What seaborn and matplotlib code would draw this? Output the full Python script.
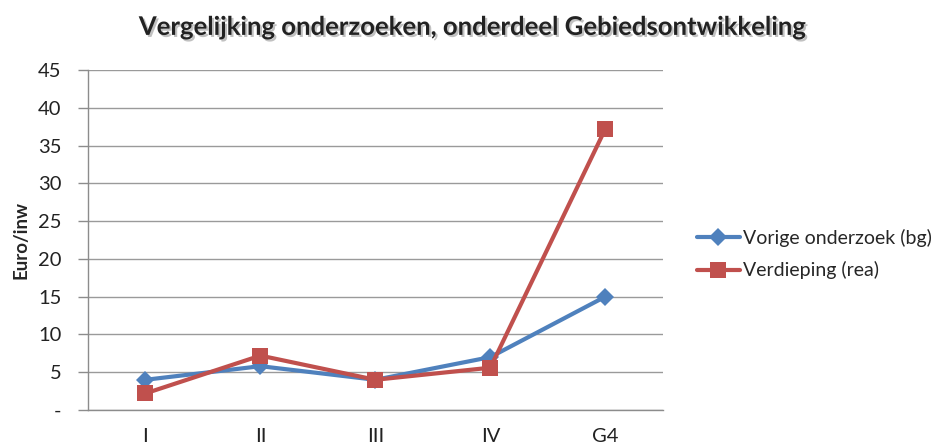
import matplotlib
matplotlib.use("Agg")
import matplotlib.pyplot as plt
import matplotlib.patheffects as pe
import seaborn as sns
import pandas as pd

categories = ["I", "II", "III", "IV", "G4"]
vorige = [4.0, 5.8, 4.0, 7.0, 15.0]
verdieping = [2.2, 7.2, 4.0, 5.6, 37.2]
series_names = ["Vorige onderzoek (bg)", "Verdieping (rea)"]
yticks = [0, 5, 10, 15, 20, 25, 30, 35, 40, 45]
ytick_labels = ["-", "5", "10", "15", "20", "25", "30", "35", "40", "45"]

sns.set_theme(style="white")
plt.rcParams['font.family'] = ['Lato', 'DejaVu Sans']

df = pd.DataFrame({
    "cat": categories * 2,
    "pos": list(range(len(categories))) * 2,
    "val": vorige + verdieping,
    "serie": [series_names[0]] * len(categories) + [series_names[1]] * len(categories),
})

fig = plt.figure(figsize=(9.47, 4.48), dpi=100)
ax = fig.add_axes([0.0929, 0.0848, 0.607, 0.759])

palette = {series_names[0]: "#4F81BD", series_names[1]: "#C0504D"}
markers = {series_names[0]: "D", series_names[1]: "s"}
sizes = {series_names[0]: 9.5, series_names[1]: 11.5}
for name in series_names:
    sub = df[df["serie"] == name]
    sns.lineplot(data=sub, x="pos", y="val", ax=ax, color=palette[name],
                 marker=markers[name], markersize=sizes[name], linewidth=3,
                 markeredgewidth=0, label=name, sort=False)

ax.set_xlim(-0.5, len(categories) - 0.5)
ax.set_ylim(0, 45)
ax.set_yticks(yticks)
ax.set_yticklabels(ytick_labels, fontsize=14.5, color="#222222")
ax.set_xticks(range(len(categories)))
ax.set_xticklabels(categories, fontsize=14.5, color="#222222")
ax.set_xticks([i - 0.5 for i in range(len(categories) + 1)], minor=True)
ax.tick_params(axis="x", which="major", length=0, pad=13)
ax.tick_params(axis="x", which="minor", length=7, width=1, color="#8c8c8c", direction="out")
ax.tick_params(axis="y", which="major", length=7, width=1, color="#8c8c8c", direction="out", left=True, pad=12)
ax.set_xlabel("")
ax.set_ylabel("Euro/inw", fontsize=13.5, fontweight="bold", labelpad=6)
ax.yaxis.grid(True, color="#9a9a9a", linewidth=1)
ax.xaxis.grid(False)
for s in ["top", "right"]:
    ax.spines[s].set_visible(False)
for s in ["left", "bottom"]:
    ax.spines[s].set_color("#8c8c8c")
    ax.spines[s].set_linewidth(1)

ax.legend(loc="center left", bbox_to_anchor=(0.736, 0.433), bbox_transform=fig.transFigure,
          frameon=False, fontsize=14, handlelength=2.2, handletextpad=0.15,
          labelspacing=0.75, borderpad=0, borderaxespad=0)

fig.text(0.5, 0.94, "Vergelijking onderzoeken, onderdeel Gebiedsontwikkeling",
         ha="center", va="center", fontsize=18.5, fontweight="bold", color="#222222",
         path_effects=[pe.SimplePatchShadow(offset=(1.5, -1.5), shadow_rgbFace="#999999", alpha=0.6),
                       pe.Normal()])

fig.savefig("out.png", dpi=100)
